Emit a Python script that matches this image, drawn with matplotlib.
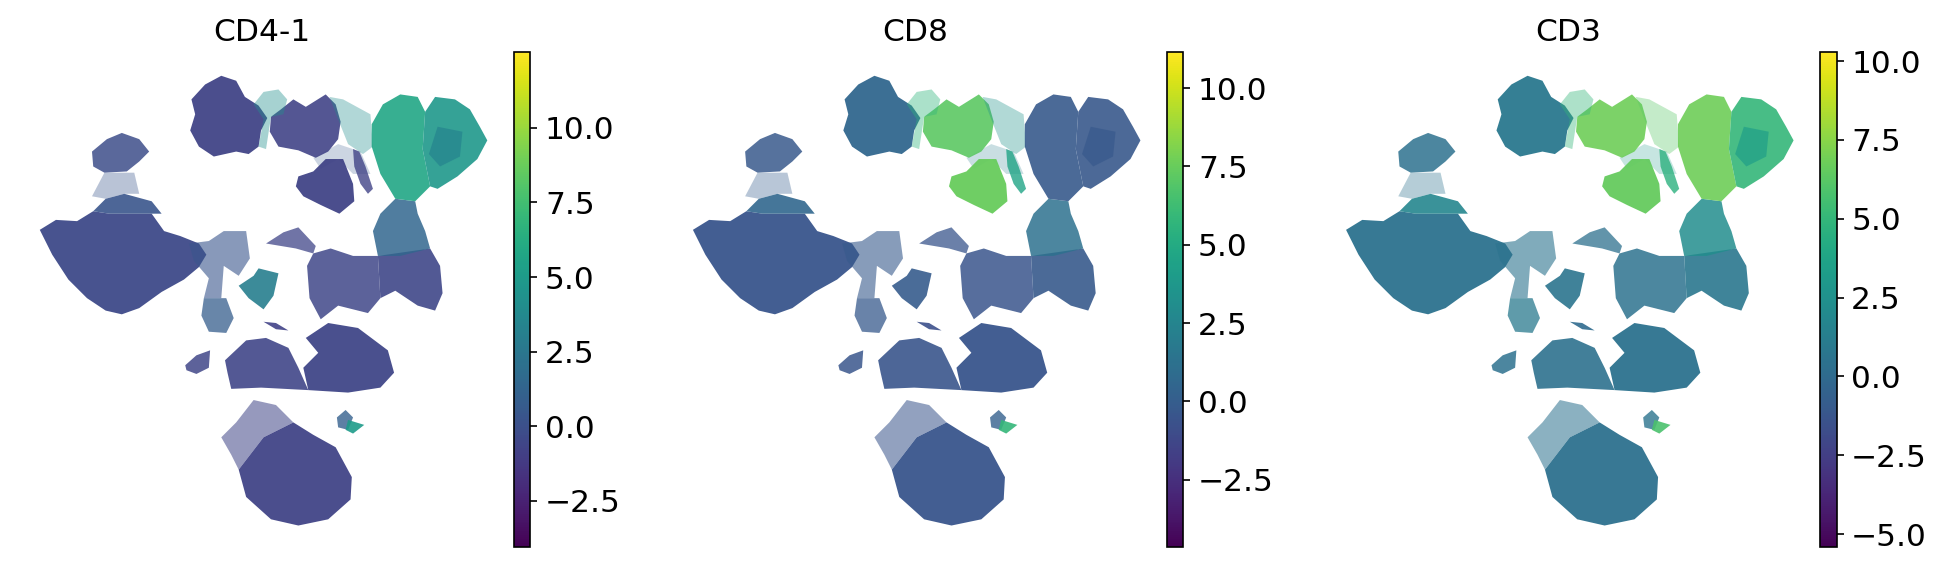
import matplotlib
matplotlib.use("Agg")
import matplotlib.pyplot as plt
from matplotlib.collections import PolyCollection
from matplotlib.cm import ScalarMappable
from matplotlib.colors import Normalize

# outlines of the embedding clusters (y grows downward)
top_a = [(178,61),(190,65),(197,78),(208,85),(215,95),(210,105),(208,118),(200,124),(190,122),(172,126),(160,118),(153,105),(157,92),(154,80),(165,68)]
top_b = [(226,88),(236,80),(246,86),(262,76),(270,84),(274,98),(272,112),(264,122),(254,127),(240,121),(224,118),(217,106),(218,94)]
top_c = [(240,142),(252,138),(262,128),(276,128),(284,148),(285,162),(273,172),(258,165),(244,158),(238,150)]
streak = [(284,120),(289,122),(294,134),(300,152),(296,156),(290,148),(285,134)]
green_gap = [(204,84),(212,74),(224,72),(231,80),(228,92),(218,94),(214,120),(208,118),(212,96)]
green_fan = [(265,78),(276,80),(298,92),(300,118),(292,124),(280,116),(272,96)]
link_bc = [(252,127),(272,116),(290,122),(298,140),(284,140),(272,128),(258,136)]
lobe_left = [(308,84),(322,76),(336,78),(342,90),(340,120),(346,150),(334,162),(318,160),(306,140),(299,118),(299,100)]
lobe_right = [(342,90),(350,78),(366,80),(378,88),(386,102),(392,113),(384,128),(368,142),(352,152),(346,150),(340,120)]
lobe_core = [(352,102),(372,106),(370,126),(354,134),(345,124)]
teal_neck = [(318,160),(334,162),(336,172),(342,186),(346,200),(322,206),(304,206),(300,186),(306,172)]
right_body = [(304,206),(346,200),(354,214),(356,236),(350,250),(336,246),(318,234),(306,240)]
big_left = [(32,185),(45,177),(62,178),(75,170),(88,172),(122,172),(132,186),(145,190),(160,196),(166,205),(160,215),(148,225),(130,235),(112,248),(98,253),(85,250),(70,240),(55,225),(42,205)]
hat = [(75,170),(85,160),(100,156),(122,162),(130,172),(122,172),(88,172)]
hat_neck = [(84,139),(108,139),(112,156),(100,156),(85,160),(74,158)]
small_top = [(74,122),(86,112),(98,107),(112,112),(120,122),(112,130),(102,138),(84,139),(75,134)]
link_upper = [(152,196),(168,194),(180,186),(198,186),(201,208),(192,222),(180,214),(178,240),(164,240),(168,224),(156,210)]
teal_square = [(192,230),(204,222),(208,216),(224,220),(220,238),(212,249),(200,240)]
link_lower = [(164,240),(182,240),(188,256),(182,268),(168,267),(162,254)]
small_low = [(149,294),(158,286),(169,282),(168,296),(158,301),(150,298)]
thin_bar = [(212,259),(222,260),(232,266),(222,265)]
low_left = [(181,290),(198,274),(214,272),(232,280),(240,296),(244,305),(248,314),(210,312),(186,313),(183,300)]
low_right = [(246,272),(264,260),(288,264),(312,282),(317,300),(306,312),(280,316),(248,314),(244,296),(256,284)]
mid_body = [(247,214),(252,204),(266,200),(284,206),(304,206),(306,240),(296,252),(272,246),(258,257),(249,240)]
mid_hump = [(214,196),(228,187),(240,183),(254,198),(252,204),(238,200)]
bottom_top = [(178,352),(190,340),(204,322),(222,326),(236,340),(212,352),(192,378),(186,366)]
bottom_main = [(212,352),(236,340),(252,350),(270,360),(283,384),(282,402),(264,418),(240,423),(218,418),(198,400),(192,378)]
tip_blue = [(271,336),(278,330),(284,336),(280,346),(272,344)]
tip_green = [(280,338),(293,342),(284,349),(278,346)]

clusters = [link_bc, small_top, hat_neck, big_left, hat, link_upper, teal_square, link_lower, small_low,
            thin_bar, low_left, low_right, mid_body, mid_hump, right_body, teal_neck, bottom_top,
            bottom_main, tip_blue, tip_green, top_a, top_b, top_c, streak, green_gap, green_fan,
            lobe_left, lobe_right, lobe_core]

# expression level of each cluster, same order as clusters
cd4_values = [0.6, -0.2, 0.3, -0.3, 0.3, 0.4, 3.0, 0.8, -0.6, -0.8, -0.6, -0.6, -0.5, -0.6, -0.5, 1.4, -0.6,
              -0.7, 1.0, 5.0, -0.7, -0.7, -0.7, -0.7, 4.2, 4.0, 5.8, 4.8, 3.4]
cd8_values = [2.0, -0.3, 0.0, -0.5, 0.6, -0.2, -0.1, -0.2, -0.4, -0.8, -0.5, -0.5, -0.5, -0.5, -0.2, 1.2, -0.5,
              -0.5, 0.2, 5.8, 0.6, 7.2, 7.5, 4.6, 5.6, 3.4, -0.2, -0.3, -0.3]
cd3_values = [3.0, 0.4, 0.5, 0.5, 1.8, 0.6, 0.7, 1.0, 0.4, 0.0, 0.4, 0.5, 0.5, 0.4, 0.8, 2.2, 0.4,
              0.4, 0.6, 5.8, 0.9, 6.8, 6.6, 4.6, 5.0, 6.2, 6.8, 5.0, 3.4]
cluster_alpha = [0.25, 0.85, 0.35, 0.95, 0.9, 0.6, 0.9, 0.75, 0.85, 0.9, 0.9, 0.95, 0.85, 0.75, 0.9, 0.85, 0.55,
                 0.95, 0.8, 0.9, 0.95, 0.9, 0.95, 0.8, 0.4, 0.35, 0.9, 0.9, 0.7]

titles = ["CD4-1", "CD8", "CD3"]
panel_values = [cd4_values, cd8_values, cd3_values]
color_limits = [(-4.04, 12.54), (-4.64, 11.15), (-5.40, 10.28)]
cbar_ticks = [[-2.5, 0, 2.5, 5, 7.5, 10], [-2.5, 0, 2.5, 5, 7.5, 10], [-5, -2.5, 0, 2.5, 5, 7.5, 10]]
panel_shift = [0, 525.4, 1050.8]

W, H = 1563.0, 458.0  # layout below is measured on this scale

fig = plt.figure(figsize=(1943 / 150, 569 / 150), dpi=150)

for i in range(3):
    s = panel_shift[i]
    ax = fig.add_axes([(27 + s) / W, (H - 440) / H, 369 / W, 398 / H])
    norm = Normalize(*color_limits[i])
    polys = PolyCollection(clusters, array=panel_values[i], cmap="viridis", norm=norm,
                           alpha=cluster_alpha, edgecolors="none")
    ax.add_collection(polys)
    ax.set_xlim(27, 396)
    ax.set_ylim(440, 42)
    ax.set_xticks([])
    ax.set_yticks([])
    for sp in ax.spines.values():
        sp.set_visible(False)
    ax.set_title(titles[i], fontsize=15, pad=5.5, x=(211 - 27) / 369)

    cax = fig.add_axes([(413.4 + s) / W, (H - 440) / H, 13.2 / W, 398 / H])
    cb = fig.colorbar(ScalarMappable(norm=norm, cmap="viridis"), cax=cax)
    cb.set_ticks(cbar_ticks[i])
    cb.set_ticklabels([f"{t:.1f}".replace("-", "\u2212") for t in cbar_ticks[i]])
    cb.ax.tick_params(labelsize=15)

fig.savefig("out.png", dpi=150)
